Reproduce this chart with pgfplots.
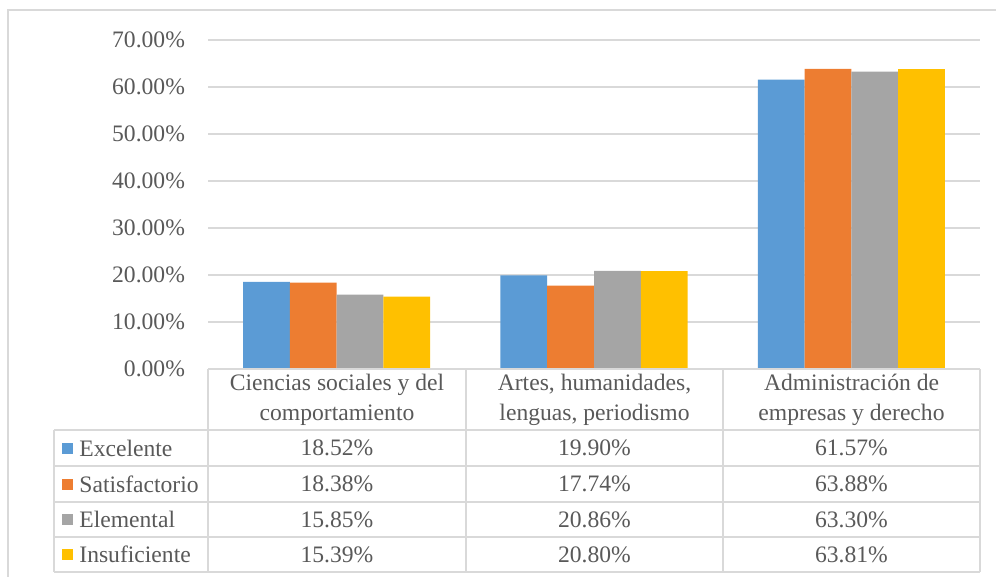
\documentclass[border=0pt]{standalone}
\usepackage{pgfplots}
\usepackage{pgfplotstable}
\pgfplotsset{compat=1.18}
\usepackage{fontspec}
\setmainfont{Liberation Serif}

\definecolor{cExc}{HTML}{5B9BD5}
\definecolor{cSat}{HTML}{ED7D31}
\definecolor{cEle}{HTML}{A5A5A5}
\definecolor{cIns}{HTML}{FFC000}
\definecolor{txt}{HTML}{595959}
\definecolor{rule}{HTML}{D9D9D9}

% porcentajes por área y nivel de desempeño
\pgfplotstableread{
idx exc sat ele ins
0 18.52 18.38 15.85 15.39
1 19.90 17.74 20.86 20.80
2 61.57 63.88 63.30 63.81
}\datatab

\newcommand{\chartfont}{\fontsize{11.8}{14.5}\selectfont}

\begin{document}
\begin{tikzpicture}[font=\chartfont, text=txt]
% marco exterior (coordenadas en píxeles, y hacia abajo)
\begin{scope}[x=0.5pt,y=-0.5pt]
  \useasboundingbox (0,0) rectangle (996,577);
  \draw[rule, line width=0.6pt] (8,577) -- (8,10) -- (996,10);
\end{scope}

\begin{axis}[
  at={(104pt,-184.5pt)}, anchor=south west,
  scale only axis, width=386pt, height=164.5pt,
  ybar=0pt, bar width=0.1817,
  xmin=-0.5, xmax=2.5, ymin=0, ymax=70,
  ytick={0,10,...,70}, xtick=\empty,
  ymajorgrids, grid style={rule, line width=0.7pt},
  axis line style={draw=none}, major tick length=0pt,
  /pgf/number format/assume math mode=true,
  yticklabel={\pgfmathprintnumber[fixed,fixed zerofill,precision=2]{\tick}\%},
  yticklabel style={text=txt, font=\chartfont, anchor=east, xshift=-8pt},
  clip=false,
]
\addplot[fill=cExc, draw=none] table[x=idx,y=exc]{\datatab};
\addplot[fill=cSat, draw=none] table[x=idx,y=sat]{\datatab};
\addplot[fill=cEle, draw=none] table[x=idx,y=ele]{\datatab};
\addplot[fill=cIns, draw=none] table[x=idx,y=ins]{\datatab};
\end{axis}

% tabla de datos bajo el eje
\begin{scope}[x=0.5pt,y=-0.5pt]
  \begin{scope}[rule, line width=0.75pt]
    \draw (208,369) -- (980,369);
    \foreach \yy in {430,466,502,537,572} \draw (54,\yy) -- (980,\yy);
    \foreach \xx in {208,466,723,980} \draw (\xx,369) -- (\xx,572);
    \draw (54,430) -- (54,572);
  \end{scope}
  \foreach \xx/\lab in {337/{Ciencias sociales y del\\comportamiento},
                        594.5/{Artes, humanidades,\\lenguas, periodismo},
                        851.5/{Administración de\\empresas y derecho}}
    \node[align=center, inner sep=0pt, font=\fontsize{11.8}{14.8}\selectfont] at (\xx,400) {\lab};
  \foreach \yy/\col/\nm/\a/\b/\c in {
      448/cExc/Excelente/18.52/19.90/61.57,
      484/cSat/Satisfactorio/18.38/17.74/63.88,
      519.5/cEle/Elemental/15.85/20.86/63.30,
      554.5/cIns/Insuficiente/15.39/20.80/63.81}{
    \fill[\col] (62,\yy-5.5) rectangle (73,\yy+5.5);
    \node[anchor=west, inner sep=0pt] at (79,\yy) {\nm};
    \node[inner sep=0pt] at (337,\yy) {\a\%};
    \node[inner sep=0pt] at (594.5,\yy) {\b\%};
    \node[inner sep=0pt] at (851.5,\yy) {\c\%};
  }
\end{scope}
\end{tikzpicture}
\end{document}
